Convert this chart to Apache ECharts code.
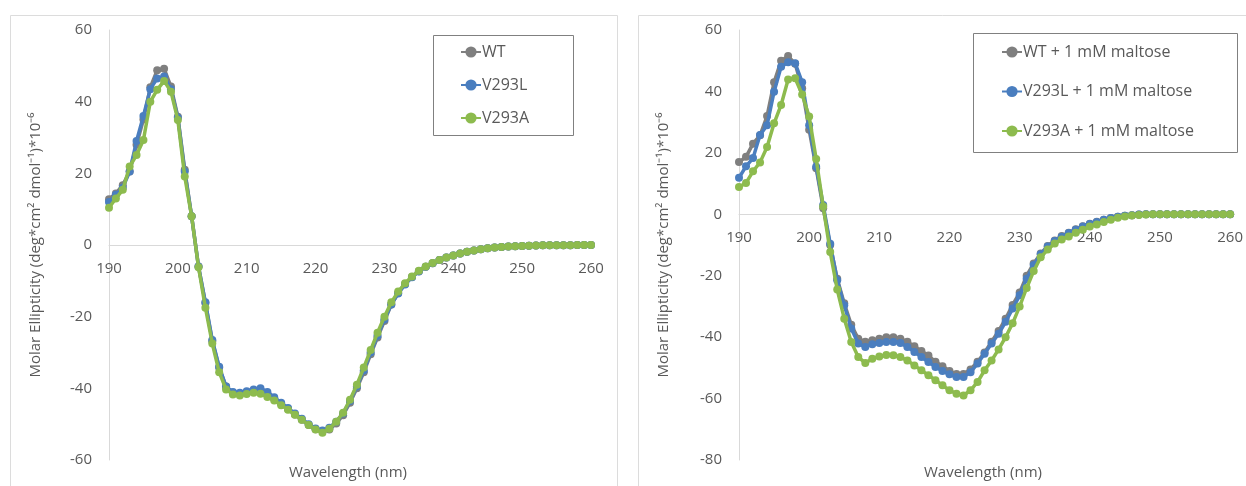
<!DOCTYPE html>
<html>
<head>
<meta charset="utf-8">
<script src="https://cdn.jsdelivr.net/npm/echarts@6/dist/echarts.min.js"></script>
<style>
html,body{margin:0;padding:0;background:#fff;}
#c{width:1246px;height:486px;}
</style>
</head>
<body>
<div id="c"></div>
<script>
// Wavelength (nm), 190..260 in 1 nm steps
const wavelengths = [];
for (let w = 190; w <= 260; w++) wavelengths.push(w);

const xTicks = [190, 200, 210, 220, 230, 240, 250, 260];
const yTicksLeft = [60, 40, 20, 0, -20, -40, -60];
const yTicksRight = [60, 40, 20, 0, -20, -40, -60, -80];

const namesLeft = ['WT', 'V293L', 'V293A'];
const namesRight = ['WT + 1 mM maltose', 'V293L + 1 mM maltose', 'V293A + 1 mM maltose'];
const xName = 'Wavelength (nm)';

// Left panel
const wt = [12.8,14.4,16.7,20.5,28,35,44,48.8,49.2,44.2,
  35.8,21,8,-6,-16.2,-26.8,-34.2,-39.5,-41.2,-41.5,
  -41,-40.8,-40.8,-41.5,-43,-44.3,-45.8,-47.3,-48.8,-50.2,
  -51.4,-52,-51.5,-49.8,-47.5,-44,-40,-35.5,-30.5,-25.8,
  -21.2,-16.6,-13.4,-10.9,-8.9,-7.3,-6.1,-5.1,-4.2,-3.5,
  -2.9,-2.4,-1.9,-1.5,-1.2,-0.9,-0.7,-0.55,-0.45,-0.35,
  -0.25,-0.2,-0.15,-0.1,-0.1,-0.1,-0.05,-0.05,0,0,0];
const v293l = [12,14,16,20.5,29,36,43.5,46.5,47,43.5,
  35.5,20.5,8,-6,-16,-26.5,-34,-39.5,-41,-41.2,
  -40.8,-40.3,-40,-41,-42.5,-44,-45.5,-47,-48.5,-50,
  -51.2,-51.8,-51,-49.3,-47,-43.5,-39.5,-35,-30,-25.3,
  -20.8,-16.6,-13.5,-11,-9,-7.4,-6.1,-5.1,-4.2,-3.5,
  -2.9,-2.4,-1.9,-1.5,-1.2,-0.9,-0.7,-0.55,-0.45,-0.35,
  -0.25,-0.2,-0.15,-0.1,-0.1,-0.1,-0.05,-0.05,0,0,0];
const v293a = [10.4,13,15.4,21.9,25.1,29.3,40,43.3,45.8,42.8,
  34.9,19.1,8,-6.2,-17.5,-27.5,-35.5,-40.3,-41.7,-42,
  -41.6,-41.2,-41.5,-42.4,-43.4,-44.7,-46,-47.4,-48.8,-50.2,
  -51.5,-52.4,-51.3,-49.3,-46.8,-43.2,-39,-34.2,-29.3,-24.5,
  -20,-16,-13,-10.7,-8.8,-7.2,-6,-5,-4.2,-3.5,
  -2.9,-2.4,-1.9,-1.5,-1.2,-0.9,-0.7,-0.55,-0.45,-0.35,
  -0.25,-0.2,-0.15,-0.1,-0.1,-0.1,-0.05,-0.05,0,0,0];

// Right panel (+ 1 mM maltose)
const wtMal = [17,18.7,23,25.7,32,43,50,51.5,49,41,
  27.5,15,2,-10,-21,-29,-36,-40.5,-41.5,-41,
  -40.5,-40,-40,-40.5,-41.5,-43,-44.5,-46,-48,-49.5,
  -51,-52,-52,-50.5,-48,-45,-41.5,-38,-34,-29.5,
  -25.5,-20,-16,-12.8,-10.3,-8.5,-7.1,-6,-4.9,-3.9,
  -3.1,-2.4,-1.8,-1.2,-0.8,-0.5,-0.3,-0.1,0,0,
  0,0,0,0,0,0,0,0,0,0,0];
const v293lMal = [11.9,15.6,18.3,25.8,29,39.9,48,49.5,49.2,43,
  29,15.5,3,-9.6,-21.5,-29.6,-37.2,-42.1,-43.2,-42.3,
  -41.9,-41.6,-41.6,-41.9,-43.2,-44.8,-46.5,-48.1,-49.7,-51,
  -52.1,-53,-53,-51.4,-48.6,-45.4,-42.1,-38.9,-35,-30.7,
  -26.4,-21,-16.5,-13,-10.5,-8.7,-7.3,-6.1,-5,-4,
  -3.2,-2.5,-1.8,-1.2,-0.8,-0.5,-0.3,-0.1,0,0,
  0,0,0,0,0,0,0,0,0,0,0];
const v293aMal = [8.9,10.2,14,16.9,21.9,29.6,35.6,43.9,44.3,39,
  31.8,18,2.5,-12.3,-24.5,-34,-41.6,-46.5,-48.4,-47,
  -46.3,-45.8,-45.9,-46.5,-47.6,-49.2,-50.8,-52.4,-54,-55.7,
  -57.3,-58.4,-59,-57.3,-54.6,-50.8,-47.6,-44,-40,-35.5,
  -30,-24,-18.5,-14,-11.5,-9.5,-8.2,-7.2,-6,-5,
  -4,-3.3,-2.5,-1.8,-1.1,-0.7,-0.4,-0.2,-0.1,0,
  0,0,0,0,0,0,0,0,0,0,0];

const colors = ['#7f7f7f', '#4a7ebf', '#8dbb4e'];
const FONT = 'Open Sans';
const labelColor = '#595959';
const axisLineColor = '#d9d9d9';
const yName = 'Molar Ellipticity (deg*cm\u00B2 dmol\u207B\u00B9)*10\u207B\u2076';

const GRID_H = 430;

function pairs(vals) { return wavelengths.map((w, i) => [w, vals[i]]); }

function mkSeries(name, vals, idx, color, z) {
  return {
    name: name, type: 'line', data: pairs(vals),
    xAxisIndex: idx, yAxisIndex: idx,
    symbol: 'circle', symbolSize: 8, showSymbol: true,
    lineStyle: { width: 3.5, color: color },
    itemStyle: { color: color },
    z: z, animation: false
  };
}

// x axis sits at value 0 of the y axis: shift it up from the grid bottom
function mkX(gridIndex, yTicks) {
  const yMin = yTicks[yTicks.length - 1], yMax = yTicks[0];
  const shift = GRID_H * (0 - yMin) / (yMax - yMin);
  return {
    type: 'value', gridIndex: gridIndex, min: 190, max: 260, interval: 10,
    position: 'bottom', offset: -shift,
    axisLine: { show: true, onZero: false, lineStyle: { color: axisLineColor, width: 1 } },
    axisTick: { show: false },
    splitLine: { show: false },
    axisLabel: { color: labelColor, fontSize: 15, fontFamily: FONT, margin: 16,
      formatter: v => (xTicks.indexOf(v) >= 0 ? String(v) : '') }
  };
}

function mkY(gridIndex, ticks, nameGap) {
  return {
    type: 'value', gridIndex: gridIndex,
    min: ticks[ticks.length - 1], max: ticks[0], interval: 20,
    axisLine: { show: true, onZero: false, lineStyle: { color: axisLineColor, width: 1 } },
    axisTick: { show: false },
    splitLine: { show: false },
    axisLabel: { color: labelColor, fontSize: 15, fontFamily: FONT, margin: 17 },
    name: yName, nameLocation: 'middle', nameGap: nameGap,
    nameTextStyle: { color: labelColor, fontSize: 15, fontFamily: FONT }
  };
}

const chart = echarts.init(document.getElementById('c'), null, { renderer: 'canvas' });
chart.setOption({
  backgroundColor: '#ffffff',
  animation: false,
  grid: [
    { left: 109, top: 30, width: 482, height: GRID_H },
    { left: 739, top: 30, width: 493, height: GRID_H }
  ],
  xAxis: [mkX(0, yTicksLeft), mkX(1, yTicksRight)],
  yAxis: [mkY(0, yTicksLeft, 66), mkY(1, yTicksRight, 68)],
  legend: [
    {
      data: namesLeft, orient: 'vertical', left: 460, top: 44,
      itemWidth: 20, itemHeight: 14, itemGap: 17, padding: 0,
      textStyle: { color: labelColor, fontSize: 16, fontFamily: FONT, padding: [0, 0, 0, -4] }
    },
    {
      data: namesRight, orient: 'vertical', left: 1001, top: 44,
      itemWidth: 20, itemHeight: 14, itemGap: 23.5, padding: 0,
      textStyle: { color: labelColor, fontSize: 16, fontFamily: FONT, padding: [0, 0, 0, -4] }
    }
  ],
  series: [
    mkSeries(namesLeft[0], wt, 0, colors[0], 2),
    mkSeries(namesLeft[1], v293l, 0, colors[1], 3),
    mkSeries(namesLeft[2], v293a, 0, colors[2], 4),
    mkSeries(namesRight[0], wtMal, 1, colors[0], 2),
    mkSeries(namesRight[1], v293lMal, 1, colors[1], 3),
    mkSeries(namesRight[2], v293aMal, 1, colors[2], 4)
  ],
  graphic: [
    { type: 'rect', shape: { x: 10.5, y: 15.5, width: 607, height: 490 }, style: { fill: 'none', stroke: '#dcdcdc', lineWidth: 1 }, z: -1, silent: true },
    { type: 'rect', shape: { x: 638.5, y: 15.5, width: 620, height: 490 }, style: { fill: 'none', stroke: '#dcdcdc', lineWidth: 1 }, z: -1, silent: true },
    { type: 'rect', shape: { x: 433.5, y: 35.5, width: 140, height: 100 }, style: { fill: '#fff', stroke: '#808080', lineWidth: 1 }, z: 1, silent: true },
    { type: 'rect', shape: { x: 973.5, y: 33.5, width: 264, height: 119 }, style: { fill: '#fff', stroke: '#808080', lineWidth: 1 }, z: 1, silent: true },
    { type: 'text', left: 289, top: 465, style: { text: xName, fill: labelColor, font: '15px "Open Sans"' }, silent: true },
    { type: 'text', left: 924, top: 465, style: { text: xName, fill: labelColor, font: '15px "Open Sans"' }, silent: true }
  ]
});
</script>
</body>
</html>
